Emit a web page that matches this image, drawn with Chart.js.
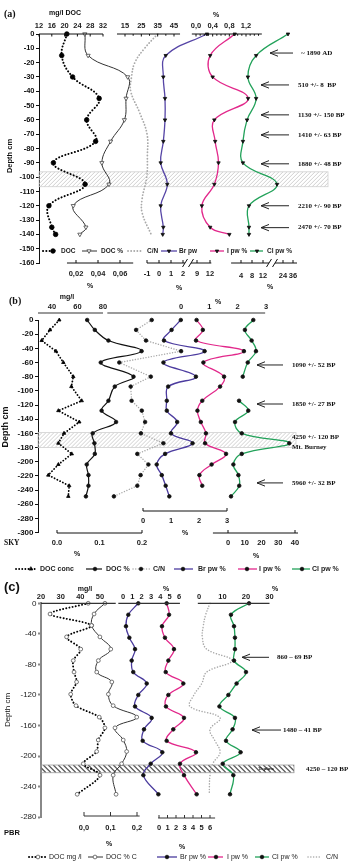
<!DOCTYPE html>
<html>
<head>
<meta charset="utf-8">
<title>Porewater profiles</title>
<script src="https://cdn.jsdelivr.net/npm/chart.js@4/dist/chart.umd.min.js"></script>
<style>
  html, body { margin: 0; padding: 0; background: #fff; }
  #wrap { position: relative; width: 351px; height: 862px; background: #fff; }
  #wrap canvas { position: absolute; left: 0; top: 0; }
</style>
</head>
<body>
<div id="wrap">
  <canvas id="chartA" width="351" height="862"></canvas>
  <canvas id="chartB" width="351" height="862"></canvas>
  <canvas id="chartC" width="351" height="862"></canvas>
</div>
<script>
// ---------- panel (a) ----------
const aDocDepth = [0, -15, -30, -45, -60, -75, -90, -105, -120, -135, -140];
const aDocMg = [20.7, 19.1, 22.5, 30.8, 26.9, 29.7, 16.5, 26.4, 15.1, 16.0, 17.2];
const aDocPct = [0.028, 0.031, 0.067, 0.0655, 0.064, 0.0515, 0.0435, 0.05, 0.0175, 0.029, 0.0235];
const aCnDepth = [0, -10, -20, -30, -40, -55, -70, -85, -100, -115, -125, -140];
const aCn = [35, 27, 21, 19, 18.5, 24, 28.5, 28.7, 28.3, 25.5, 25.5, 31];
const aPwDepth = [0, -15, -30, -45, -60, -75, -90, -105, -120, -135, -140];
const aBr = [11.3, 0.56, 0.36, 0.5, 0.5, 0.36, 0.14, 0.69, 0.14, 0.36, 0.31];
const aI = [0.93, 0.34, 0.4, 1.25, 0.44, 0.46, 0.54, 0.44, 0.14, 0.34, 0.8];
const aCl = [30, 9.5, 6.5, 9.5, 6.2, 4.7, 4.7, 20.4, 6.9, 6.9, 6.9];
const aDates = ['~ 1890 AD', '510 +/- 8  BP', '1130 +/- 150 BP', '1410 +/- 63 BP', '1880 +/- 48 BP', '2210 +/- 90 BP', '2470 +/- 70 BP'];
const aDateDepth = [-13.3, -35.6, -56.5, -70.5, -90.7, -120, -135.3];
const aDocMgTicks = [12, 16, 20, 24, 28, 32];
const aCnTicks = [15, 25, 35, 45];
const aITicks = [0, 0.4, 0.8, 1.2];
const aITickLabels = ['0,0', '0,4', '0,8', '1,2'];
const aIMinor = [0.1, 0.2, 0.3, 0.5, 0.6, 0.7, 0.9, 1.0, 1.1, 1.3, 1.4, 1.5];
const aDocPctTicks = [0.02, 0.04, 0.06];
const aDocPctLabels = ['0,02', '0,04', '0,06'];
const aBrTicks = [-1, 0, 1, 2, 9, 12];
const aClTicks = [4, 8, 12, 24, 36];

// ---------- panel (b) SKY ----------
const bDepth = [0, -14, -29, -44, -60, -80, -94, -114, -128, -144, -160, -174, -189, -204, -219, -234, -249];
const bDocMg = [45.7, 38.4, 31.9, 43.1, 48.9, 56.7, 55.2, 63.3, 45, 61.4, 49.4, 45, 55.5, 45, 37.1, 53.5, 52.8];
const bDocPct = [0.071, 0.089, 0.121, 0.199, 0.103, 0.18, 0.136, 0.121, 0.105, 0.139, 0.084, 0.088, 0.089, 0.07, 0.074, 0.074, 0.068];
const bCn = [24.9, 19.7, 23, 34.7, 14.1, 24.6, 17.9, 18.2, 21.6, 22.7, 21.3, 28.8, 20.1, 23.8, 21.2, 20.1, 12.3];
const bBr = [1.35, 1.02, 0.75, 2.2, 0.73, 1.89, 0.9, 0.85, 0.85, 1.22, 1.0, 1.77, 0.79, 0.49, 0.67, 0.81, 0.94];
const bI = [0.55, 0.77, 0.53, 2.22, 0.79, 1.52, 1.38, 0.75, 0.58, 0.7, 0.88, 0.85, 1.59, 1.08, 0.65, 0.75, null];
const bCl = [15.1, 10.1, 14.1, 16.7, 11.8, 8.8, null, 6.6, 12.1, 4.2, 8.2, 36.6, 8.2, 3.2, 6.2, 6.7, 1.8];
const bDates = ['1090 +/- 52 BP', '1850 +/- 27 BP', '5960 +/- 32 BP'];
const bDateDepth = [-63.5, -118.6, -230];
const bDocMgTicks = [40, 60, 80];
const bITicks = [0, 1, 2, 3];
const bBrTicks = [0, 1, 2, 3];
const bDocPctTicks = [0, 0.1, 0.2];
const bDocPctLabels = ['0.0', '0.1', '0.2'];
const bClTicks = [0, 10, 20, 30, 40];

// ---------- panel (c) PBR ----------
const cDocDepth = [0, -14, -29, -44, -60, -75, -90, -103, -119, -134, -149, -163, -179, -194, -210, -225, -250];
const cDocMg = [44, 24.6, 45.7, 33, 40.2, 36.4, 36.8, 38.1, 35.1, 37.8, 49.6, 52.5, 49.1, 48.3, 41.5, 50, 38.4];
const cDocPct = [0.079, 0.038, 0.029, 0.06, 0.101, 0.054, 0.048, 0.105, 0.092, 0.11, 0.199, 0.117, 0.148, 0.161, 0.142, 0.11, 0.121];
const cPwDepth = [0, -15, -30, -45, -60, -75, -90, -105, -120, -135, -150, -165, -180, -195, -210, -225, -250];
const cBr = [1.64, 0.57, 0.32, 0.68, 1.29, 0.93, 1.1, 2.54, 1.64, 1.29, 3.07, 2.25, 2.11, 4.21, 2.97, 2.18, 3.79];
const cI = [0.9, 1.18, 0.35, 0.7, 1.76, 1.1, 0.79, 2.86, 1.1, 0.82, 2.94, 1.68, 0.9, 4.35, 2.47, 2.94, 4.43];
const cCl = [21.3, 13.6, 14.9, 15.3, 15.3, 14.9, 20, 16, 12.5, 8.7, 15.3, 14.3, 11.5, 17.7, 10.1, 14.6, 13.2];
const cCn = [20, 17.1, 15.5, 14.9, 17.8, 34.5, 17.8, 14.5, 9.3, 6.7, 26.7, 20, 23.3, 26.7, 21.8, 20, 19.5];
const cDates = ['860 – 69 BP', '1480 – 41 BP'];
const cDateDepth = [-70.7, -165.9];
const cDocMgTicks = [20, 30, 40, 50];
const cBrTicks = [0, 1, 2, 3, 4, 5, 6];
const cClTicks = [0, 10, 20, 30];
const cDocPctTicks = [0, 0.1, 0.2];
const cDocPctLabels = ['0,0', '0,1', '0,2'];
const cITicks = [0, 1, 2, 3, 4, 5, 6];

// ---------- helpers ----------
const SANS = '"Liberation Sans", Arial, sans-serif';
const SERIF = '"Liberation Serif", "Times New Roman", serif';
Chart.defaults.font.family = SANS;
Chart.defaults.color = '#111';

// scale with a broken (piecewise linear) axis
const knotTable = {};
class BrokenScale extends Chart.LinearScale {
  getPixelForValue(value) {
    if (value === null || value === undefined || isNaN(value)) return NaN;
    const k = knotTable[this.id];
    let i = 0;
    while (i < k.length - 2 && value > k[i + 1][0]) i++;
    const f = k[i][1] + (value - k[i][0]) * (k[i + 1][1] - k[i][1]) / (k[i + 1][0] - k[i][0]);
    return this.left + f * (this.right - this.left);
  }
  getValueForPixel(pixel) {
    const k = knotTable[this.id];
    const f = (pixel - this.left) / (this.right - this.left);
    let i = 0;
    while (i < k.length - 2 && f > k[i + 1][1]) i++;
    return k[i][0] + (f - k[i][1]) * (k[i + 1][0] - k[i][0]) / (k[i + 1][1] - k[i][1]);
  }
}
BrokenScale.id = 'broken';
BrokenScale.defaults = {};
Chart.register(BrokenScale);

function pts(xs, ys) {
  return xs.map((v, i) => ({ x: v, y: ys[i] }));
}

// hidden x axis, two reference ticks give the range across the plot box
function linAxis(box, v1, p1, v2, p2) {
  const k = (v2 - v1) / (p2 - p1);
  return { type: 'linear', axis: 'x', position: 'top', display: false, bounds: 'data',
    min: v1 + (box.left - p1) * k, max: v1 + (box.right - p1) * k };
}
function brokenAxis(id, box, pairs) {
  const w = box.right - box.left;
  const n = pairs.length;
  knotTable[id] = pairs.map(p => [p[0], (p[1] - box.left) / w]);
  const lo = pairs[0][0] + (box.left - pairs[0][1]) * (pairs[1][0] - pairs[0][0]) / (pairs[1][1] - pairs[0][1]);
  const hi = pairs[n - 2][0] + (box.right - pairs[n - 2][1]) * (pairs[n - 1][0] - pairs[n - 2][0]) / (pairs[n - 1][1] - pairs[n - 2][1]);
  return { type: 'broken', axis: 'x', position: 'top', display: false, bounds: 'data', min: lo, max: hi };
}
function depthAxis(box, min, step, st) {
  return {
    type: 'linear', axis: 'y', position: 'left', min: min, max: 0,
    afterFit: s => { s.width = box.left; },
    ticks: { stepSize: step, autoSkip: false, padding: 1.5, color: st.label,
      font: { size: st.size, weight: st.weight, family: SANS } },
    grid: { drawOnChartArea: false, drawTicks: true, tickLength: 3, color: st.line, tickWidth: st.width },
    border: { display: true, color: st.line, width: st.width }
  };
}

function line(label, axis, xs, ys, st) {
  return Object.assign({
    label: label, xAxisID: axis, yAxisID: 'y', data: pts(xs, ys),
    showLine: true, fill: false, clip: false, capBezierPoints: false, tension: 0.4,
    borderWidth: 1.2, borderDash: [], borderCapStyle: 'butt',
    pointRadius: 0, pointStyle: 'circle', pointRotation: 0,
    pointBackgroundColor: '#000', pointBorderColor: '#000', pointBorderWidth: 0.8
  }, st);
}

function marker(ctx, style, x, y, r, rot, fill, stroke, bw) {
  ctx.save();
  ctx.beginPath();
  if (style === 'triangle') {
    let a = rot * Math.PI / 180;
    ctx.moveTo(x + Math.sin(a) * r, y - Math.cos(a) * r);
    a += 2 * Math.PI / 3;
    ctx.lineTo(x + Math.sin(a) * r, y - Math.cos(a) * r);
    a += 2 * Math.PI / 3;
    ctx.lineTo(x + Math.sin(a) * r, y - Math.cos(a) * r);
    ctx.closePath();
  } else {
    ctx.arc(x, y, r, 0, Math.PI * 2);
  }
  ctx.fillStyle = fill;
  ctx.fill();
  ctx.lineWidth = bw;
  ctx.strokeStyle = stroke;
  ctx.stroke();
  ctx.restore();
}

function drawBand(ctx, chart, b) {
  const ys = chart.scales.y;
  const y1 = ys.getPixelForValue(b.from), y2 = ys.getPixelForValue(b.to);
  const h = y2 - y1;
  ctx.save();
  ctx.beginPath();
  ctx.rect(b.x1, y1, b.x2 - b.x1, h);
  ctx.clip();
  ctx.strokeStyle = b.hatch;
  ctx.lineWidth = b.lw;
  ctx.beginPath();
  for (let x = b.x1 - h; x < b.x2 + h; x += b.gap) {
    if (b.back) { ctx.moveTo(x, y1); ctx.lineTo(x + h, y2); }
    else { ctx.moveTo(x, y2); ctx.lineTo(x + h, y1); }
  }
  ctx.stroke();
  ctx.restore();
  ctx.save();
  ctx.strokeStyle = b.edge;
  ctx.lineWidth = 0.8;
  ctx.strokeRect(b.x1, y1, b.x2 - b.x1, h);
  ctx.restore();
}

function drawAxis(ctx, chart, ax, font) {
  const s = chart.scales[ax.scale];
  const px = v => s.getPixelForValue(v);
  ctx.save();
  ctx.strokeStyle = ax.color || '#111';
  ctx.lineWidth = ax.lw || 1;
  ctx.beginPath();
  ax.segs.forEach(g => { ctx.moveTo(px(g[0]), ax.y); ctx.lineTo(px(g[1]), ax.y); });
  const tl = ax.tick || 0;
  if (tl) {
    (ax.marks || ax.ticks).forEach(v => { ctx.moveTo(px(v), ax.y); ctx.lineTo(px(v), ax.y + tl); });
    (ax.minor || []).forEach(v => { ctx.moveTo(px(v), ax.y); ctx.lineTo(px(v), ax.y + tl * 0.7); });
  }
  ctx.stroke();
  (ax.breaks || []).forEach(v => {
    const x = px(v);
    ctx.beginPath();
    ctx.moveTo(x - 2.5, ax.y + 4);
    ctx.lineTo(x + 2.5, ax.y - 4);
    ctx.stroke();
  });
  ctx.fillStyle = '#1a1a1a';
  ctx.font = font;
  ctx.textAlign = 'center';
  ctx.textBaseline = 'middle';
  ax.ticks.forEach((v, i) => ctx.fillText(ax.labels ? ax.labels[i] : String(v), px(v), ax.labelY));
  ctx.restore();
}

function drawArrow(ctx, chart, a, font) {
  const y = chart.scales.y.getPixelForValue(a.d);
  ctx.save();
  ctx.strokeStyle = '#222';
  ctx.lineWidth = 1;
  if (a.x1 !== null) {
    ctx.beginPath();
    ctx.moveTo(a.x2, y);
    ctx.lineTo(a.x1, y);
    ctx.moveTo(a.x1 + 8, y - 3.2);
    ctx.lineTo(a.x1, y);
    ctx.lineTo(a.x1 + 8, y + 3.2);
    ctx.stroke();
  }
  ctx.fillStyle = '#111';
  ctx.font = font;
  ctx.textAlign = 'left';
  ctx.textBaseline = 'middle';
  ctx.fillText(a.t, a.tx, y);
  ctx.restore();
}

function drawText(ctx, t) {
  ctx.save();
  ctx.fillStyle = t.c || '#111';
  ctx.font = t.f;
  ctx.textAlign = t.a || 'center';
  ctx.textBaseline = 'middle';
  ctx.translate(t.x, t.y);
  if (t.rot) ctx.rotate(t.rot * Math.PI / 180);
  ctx.fillText(t.t, 0, 0);
  ctx.restore();
}

function drawLegend(ctx, chart, it, font, y) {
  const ds = chart.data.datasets[it.ds];
  ctx.save();
  ctx.strokeStyle = ds.borderColor;
  ctx.lineWidth = ds.borderWidth;
  ctx.lineCap = ds.borderCapStyle;
  ctx.setLineDash(ds.borderDash);
  ctx.beginPath();
  ctx.moveTo(it.x1, y);
  ctx.lineTo(it.x2, y);
  ctx.stroke();
  ctx.setLineDash([]);
  if (ds.pointRadius > 0 && it.mx !== null) {
    marker(ctx, ds.pointStyle, it.mx, y, ds.pointRadius, ds.pointRotation,
      ds.pointBackgroundColor, ds.pointBorderColor, ds.pointBorderWidth);
  }
  ctx.fillStyle = '#222';
  ctx.font = font;
  ctx.textAlign = 'left';
  ctx.textBaseline = 'middle';
  ctx.fillText(it.text, it.tx, y);
  ctx.restore();
}

function decoPlugin(d) {
  return {
    id: 'deco',
    beforeDatasetsDraw(chart) { drawBand(chart.ctx, chart, d.band); },
    afterDraw(chart) {
      const ctx = chart.ctx;
      d.axes.forEach(ax => drawAxis(ctx, chart, ax, d.axisFont));
      d.arrows.forEach(a => drawArrow(ctx, chart, a, d.noteFont));
      d.texts.forEach(t => drawText(ctx, t));
      d.legend.forEach(it => drawLegend(ctx, chart, it, d.legendFont, d.legendY));
    }
  };
}

function buildChart(canvasId, box, scales, datasets, deco) {
  return new Chart(document.getElementById(canvasId), {
    type: 'scatter',
    data: { datasets: datasets },
    options: {
      responsive: false, animation: false, events: [], devicePixelRatio: 1,
      layout: { padding: { left: 0, right: 351 - box.right, top: box.top, bottom: 862 - box.bottom } },
      plugins: { legend: { display: false }, tooltip: { enabled: false } },
      scales: scales
    },
    plugins: [decoPlugin(deco)]
  });
}

const PURPLE = '#5645a6', PINK = '#e2288b', GREEN = '#22a25a', GREY = '#a9a9a9';
const triDown = { pointStyle: 'triangle', pointRotation: 180, pointRadius: 2, pointBackgroundColor: '#111', pointBorderColor: '#111' };
const dot = { pointStyle: 'circle', pointRadius: 1.8, pointBackgroundColor: '#111', pointBorderColor: '#111' };
const ring = { pointStyle: 'circle', pointRadius: 1.9, pointBackgroundColor: '#fff', pointBorderColor: '#555', pointBorderWidth: 0.8 };
const dots = w => ({ borderWidth: w, borderDash: [0.1, w + 1.2], borderCapStyle: 'round' });

// ---------- chart (a) ----------
const boxA = { left: 39, right: 340, top: 34, bottom: 263 };
const scalesA = {
  y: depthAxis(boxA, -160, 10, { label: '#111', size: 7.5, weight: 'bold', line: '#111', width: 1 }),
  aDocMg: linAxis(boxA, 12, 39, 32, 103),
  aDocPct: linAxis(boxA, 0.02, 76, 0.06, 120),
  aCn: linAxis(boxA, 15, 125, 45, 174),
  aI: linAxis(boxA, 0, 196, 1.2, 246),
  aBr: brokenAxis('aBr', boxA, [[-1, 147], [2, 183], [9, 197], [12, 210]]),
  aCl: brokenAxis('aCl', boxA, [[4, 241], [12, 263], [24, 283], [36, 293]])
};
const dsA = [
  line('DOC', 'aDocMg', aDocMg, aDocDepth, Object.assign({ borderColor: '#000', pointRadius: 2.3 }, dots(2))),
  line('DOC %', 'aDocPct', aDocPct, aDocDepth, { borderColor: '#333', borderWidth: 1, pointStyle: 'triangle', pointRotation: 180, pointRadius: 2.4, pointBackgroundColor: '#fff', pointBorderColor: '#444' }),
  line('C/N', 'aCn', aCn, aCnDepth, Object.assign({ borderColor: GREY }, dots(1.8))),
  line('Br pw', 'aBr', aBr, aPwDepth, Object.assign({ borderColor: PURPLE, borderWidth: 1.3 }, triDown)),
  line('I pw %', 'aI', aI, aPwDepth, Object.assign({ borderColor: PINK, borderWidth: 1.3 }, triDown)),
  line('Cl pw %', 'aCl', aCl, aPwDepth, Object.assign({ borderColor: GREEN, borderWidth: 1.3 }, triDown))
];
const decoA = {
  band: { from: -96.3, to: -106.7, x1: 39, x2: 328, hatch: '#c4c4c4', edge: '#cfcfcf', gap: 4, lw: 0.8, back: false },
  axisFont: 'bold 7.5px ' + SANS,
  noteFont: 'bold 7px ' + SERIF,
  legendFont: 'bold 6.5px ' + SANS,
  legendY: 251,
  axes: [
    { scale: 'aDocMg', y: 34, segs: [[12, 32]], ticks: aDocMgTicks, labelY: 26, tick: 2.5 },
    { scale: 'aCn', y: 34, segs: [[10.1, 48.7]], ticks: aCnTicks, minor: [20, 30, 40], labelY: 26, tick: 2.5 },
    { scale: 'aI', y: 34, segs: [[-0.1, 1.58]], ticks: aITicks, labels: aITickLabels, minor: aIMinor, labelY: 26, tick: 2.5 },
    { scale: 'aDocPct', y: 263, segs: [[0.0118, 0.072]], ticks: aDocPctTicks, labels: aDocPctLabels, labelY: 274, tick: -3 },
    { scale: 'aBr', y: 263, segs: [[-1, 3], [6, 12.3]], breaks: [3, 6], ticks: aBrTicks, labelY: 274, tick: -3 },
    { scale: 'aCl', y: 263, segs: [[0.4, 15.6], [19.2, 40.8]], breaks: [15.6, 19.2], ticks: aClTicks, labelY: 276, tick: -3 }
  ],
  arrows: aDates.map((t, i) => ({ t: t, d: aDateDepth[i], x1: i === 0 ? 270 : 261, x2: i === 0 ? 293 : 289, tx: i === 0 ? 301 : 298 })),
  texts: [
    { t: '(a)', x: 4, y: 14, f: 'bold 10px ' + SERIF, a: 'left' },
    { t: 'mg/l DOC', x: 65, y: 13, f: 'bold 7px ' + SANS },
    { t: '%', x: 216, y: 15, f: 'bold 7px ' + SANS },
    { t: '%', x: 90, y: 286, f: 'bold 7px ' + SANS },
    { t: '%', x: 179, y: 288, f: 'bold 7px ' + SANS },
    { t: '%', x: 270, y: 287, f: 'bold 7px ' + SANS },
    { t: 'Depth cm', x: 10, y: 156, rot: -90, f: 'bold 7.5px ' + SANS }
  ],
  legend: [
    { ds: 0, x1: 43, x2: 56, mx: 53, tx: 61, text: 'DOC' },
    { ds: 1, x1: 82, x2: 97, mx: 89, tx: 101, text: 'DOC %' },
    { ds: 2, x1: 128, x2: 143, mx: null, tx: 147, text: 'C/N' },
    { ds: 3, x1: 161, x2: 177, mx: 169, tx: 179, text: 'Br pw' },
    { ds: 4, x1: 210, x2: 224, mx: 217, tx: 227, text: 'I pw %' },
    { ds: 5, x1: 250, x2: 263, mx: 257, tx: 267, text: 'Cl pw %' }
  ]
};
buildChart('chartA', boxA, scalesA, dsA, decoA);

// ---------- chart (b) ----------
const boxB = { left: 38, right: 340, top: 320, bottom: 532.5 };
const scalesB = {
  y: depthAxis(boxB, -300, 20, { label: '#111', size: 8, weight: 'bold', line: '#111', width: 1 }),
  bDocMg: linAxis(boxB, 40, 52, 80, 103),
  bDocPct: linAxis(boxB, 0, 57, 0.2, 142),
  bCn: linAxis(boxB, 10, 107, 40, 197),
  bBr: linAxis(boxB, 0, 143, 3, 227),
  bI: linAxis(boxB, 0, 181, 3, 266),
  bCl: linAxis(boxB, 0, 228, 40, 295)
};
const dsB = [
  line('DOC conc', 'bDocMg', bDocMg, bDepth, Object.assign({ borderColor: '#000', tension: 0, pointStyle: 'triangle', pointRadius: 2, pointBackgroundColor: '#000', pointBorderColor: '#000' }, dots(1.8))),
  line('DOC %', 'bDocPct', bDocPct, bDepth, Object.assign({ borderColor: '#111', borderWidth: 1.2 }, dot)),
  line('C/N', 'bCn', bCn, bDepth, Object.assign({ borderColor: GREY, tension: 0 }, dots(1.4), dot)),
  line('Br pw %', 'bBr', bBr, bDepth, Object.assign({ borderColor: '#4c3c9f', borderWidth: 1.3 }, dot)),
  line('I pw %', 'bI', bI, bDepth, Object.assign({ borderColor: PINK, borderWidth: 1.3 }, dot)),
  line('Cl pw %', 'bCl', bCl, bDepth, Object.assign({ borderColor: GREEN, borderWidth: 1.3 }, dot))
];
const decoB = {
  band: { from: -159, to: -180, x1: 38, x2: 296, hatch: '#c4c4c4', edge: '#cfcfcf', gap: 4, lw: 0.8, back: false },
  axisFont: 'bold 7.5px ' + SANS,
  noteFont: 'bold 7px ' + SERIF,
  legendFont: 'bold 7px ' + SANS,
  legendY: 569,
  axes: [
    { scale: 'bDocMg', y: 313, segs: [[29, 80]], ticks: bDocMgTicks, labelY: 307, color: '#777', lw: 1.5 },
    { scale: 'bI', y: 313, segs: [[-2.6, 2.97]], ticks: bITicks, labelY: 307, color: '#777', lw: 1.5 },
    { scale: 'bBr', y: 511, segs: [[0, 3]], ticks: bBrTicks, marks: [0, 3], labelY: 521, tick: -3 },
    { scale: 'bDocPct', y: 533, segs: [[0, 0.2]], ticks: bDocPctTicks, labels: bDocPctLabels, marks: [0, 0.2], labelY: 543, tick: -3 },
    { scale: 'bCl', y: 533, segs: [[-9, 41.8]], ticks: bClTicks, marks: [0, 40], labelY: 543, tick: -3 }
  ],
  arrows: bDates.map((t, i) => ({ t: t, d: bDateDepth[i], x1: 257, x2: 283, tx: 292 })).concat([
    { t: '4250 +/- 120 BP', d: -165.5, x1: null, tx: 292 },
    { t: 'Mt. Burney', d: -179.5, x1: null, tx: 292 }
  ]),
  texts: [
    { t: '(b)', x: 9, y: 301, f: 'bold 10px ' + SERIF, a: 'left' },
    { t: 'mg/l', x: 67, y: 297, f: 'bold 7px ' + SANS },
    { t: '%', x: 218, y: 302, f: 'bold 7px ' + SANS },
    { t: '%', x: 185, y: 533, f: 'bold 7px ' + SANS },
    { t: '%', x: 77, y: 554, f: 'bold 7px ' + SANS },
    { t: '%', x: 256, y: 556, f: 'bold 7px ' + SANS },
    { t: 'SKY', x: 4, y: 543, f: 'bold 7.5px ' + SERIF, a: 'left' },
    { t: 'Depth cm', x: 6, y: 427, rot: -90, f: 'bold 9px ' + SANS }
  ],
  legend: [
    { ds: 0, x1: 16, x2: 35, mx: 31, tx: 40, text: 'DOC conc' },
    { ds: 1, x1: 86, x2: 102, mx: 95, tx: 106, text: 'DOC %' },
    { ds: 2, x1: 133, x2: 151, mx: 141, tx: 153, text: 'C/N' },
    { ds: 3, x1: 174, x2: 193, mx: 183, tx: 198, text: 'Br pw %' },
    { ds: 4, x1: 238, x2: 257, mx: 247, tx: 259, text: 'I pw %' },
    { ds: 5, x1: 292, x2: 310, mx: 302, tx: 312, text: 'Cl pw %' }
  ]
};
buildChart('chartB', boxB, scalesB, dsB, decoB);

// ---------- chart (c) ----------
const boxC = { left: 41, right: 340, top: 603.3, bottom: 817.2 };
const scalesC = {
  y: depthAxis(boxC, -280, 40, { label: '#222', size: 8, weight: 'normal', line: '#888', width: 2 }),
  cDocMg: linAxis(boxC, 20, 41, 50, 100),
  cDocPct: linAxis(boxC, 0, 84, 0.2, 137),
  cBr: linAxis(boxC, 0, 123, 6, 179),
  cI: linAxis(boxC, 0, 159, 6, 210),
  cCl: linAxis(boxC, 0, 199, 30, 269.5),
  cCn: linAxis(boxC, 10, 195, 20, 210)
};
const dsC = [
  line('DOC mg /l', 'cDocMg', cDocMg, cDocDepth, Object.assign({ borderColor: '#000', tension: 0.3 }, dots(1.9), ring)),
  line('DOC % C', 'cDocPct', cDocPct, cDocDepth, Object.assign({ borderColor: '#333', borderWidth: 1 }, ring)),
  line('Br pw %', 'cBr', cBr, cPwDepth, Object.assign({ borderColor: '#4a3b9d', borderWidth: 1.3 }, dot)),
  line('I pw %', 'cI', cI, cPwDepth, Object.assign({ borderColor: PINK, borderWidth: 1.3 }, dot)),
  line('Cl pw %', 'cCl', cCl, cPwDepth, Object.assign({ borderColor: GREEN, borderWidth: 1.3 }, dot)),
  line('C/N', 'cCn', cCn, cPwDepth, Object.assign({ borderColor: GREY }, dots(1.5)))
];
const decoC = {
  band: { from: -211.7, to: -221.8, x1: 41, x2: 294, hatch: '#5a5a5a', edge: '#999', gap: 5, lw: 1.3, back: true },
  axisFont: 'bold 7.5px ' + SANS,
  noteFont: 'bold 7px ' + SERIF,
  legendFont: '7px ' + SANS,
  legendY: 857,
  axes: [
    { scale: 'cDocMg', y: 603.3, segs: [[20, 58]], ticks: cDocMgTicks, labelY: 597, color: '#333', lw: 1.2 },
    { scale: 'cBr', y: 603.3, segs: [[-0.5, 6.1]], ticks: cBrTicks, labelY: 597, color: '#333', lw: 1.2 },
    { scale: 'cCl', y: 603.3, segs: [[-0.5, 30]], ticks: cClTicks, labelY: 597, color: '#333', lw: 1.2 },
    { scale: 'cDocPct', y: 816, segs: [[0, 0.21]], ticks: cDocPctTicks, labels: cDocPctLabels, labelY: 828, tick: -4, color: '#333' },
    { scale: 'cI', y: 818, segs: [[-0.1, 6.6]], ticks: cITicks, labelY: 828, tick: -3, color: '#333' }
  ],
  arrows: cDates.map((t, i) => ({ t: t, d: cDateDepth[i], x1: i === 0 ? 242 : 252, x2: i === 0 ? 269 : 281, tx: i === 0 ? 277 : 283 })).concat([
    { t: '4250 – 120 BP', d: -216.5, x1: null, tx: 306 }
  ]),
  texts: [
    { t: '(c)', x: 4, y: 587, f: 'bold 13px ' + SANS, a: 'left' },
    { t: 'mg/l', x: 85, y: 589, f: 'bold 7px ' + SANS },
    { t: '%', x: 166, y: 589, f: 'bold 7px ' + SANS },
    { t: '%', x: 275, y: 589, f: 'bold 7px ' + SANS },
    { t: '%', x: 109, y: 844, f: 'bold 7px ' + SANS },
    { t: '%', x: 182, y: 847, f: 'bold 7px ' + SANS },
    { t: 'PBR', x: 4, y: 833, f: 'bold 7.5px ' + SANS, a: 'left' },
    { t: 'Tephra', x: 266, y: 769, f: 'bold 5px ' + SERIF },
    { t: 'Depth cm', x: 7.5, y: 710, rot: -90, f: '8px ' + SANS }
  ],
  legend: [
    { ds: 0, x1: 29, x2: 47, mx: 38, tx: 49, text: 'DOC mg /l' },
    { ds: 1, x1: 88, x2: 103, mx: 95, tx: 106, text: 'DOC % C' },
    { ds: 2, x1: 157, x2: 177, mx: 167, tx: 180, text: 'Br pw %' },
    { ds: 3, x1: 208, x2: 223, mx: 216, tx: 227, text: 'I pw %' },
    { ds: 4, x1: 255, x2: 269, mx: 262, tx: 272, text: 'Cl pw %' },
    { ds: 5, x1: 308, x2: 322, mx: null, tx: 326, text: 'C/N' }
  ]
};
buildChart('chartC', boxC, scalesC, dsC, decoC);
</script>
</body>
</html>
